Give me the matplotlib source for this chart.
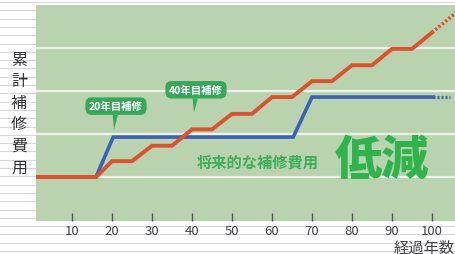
import matplotlib
matplotlib.use("Agg")
import matplotlib.pyplot as plt
import numpy as np

plt.rcParams['font.family'] = ['Noto Sans CJK JP', 'DejaVu Sans']

# ---- data ----
red_x = [0, 16, 20, 25, 30, 35, 40, 45, 50, 55, 60, 65, 70, 75, 80, 85, 90, 95, 100]
red_y = [0, 0, 3.7, 3.7, 7.3, 7.3, 11.1, 11.1, 14.7, 14.7, 18.6, 18.6, 22.3, 22.3, 26.0, 26.0, 29.8, 29.8, 33.6]
red_ext_x = [100, 106]
red_ext_y = [33.6, 38.2]

blue_x = [0, 16, 20.3, 65.3, 70, 100.3]
blue_y = [0, 0, 9.3, 9.3, 18.6, 18.6]
blue_ext_x = [100.3, 104.5]
blue_ext_y = [18.6, 18.6]

xticks = [10, 20, 30, 40, 50, 60, 70, 80, 90, 100]
grid_levels = [0, 10, 20, 30]
ylabel = "累計補修費用"
xlabel = "経過年数"
callouts = ["20年目補修", "40年目補修"]
callout_tip = [(20.5, 11.0), (40.5, 15.0)]
callout_box = [(21.0, 16.5), (41.0, 20.3)]
note_small = "将来的な補修費用"
note_big = "低減"

# ---- figure ----
W, H = 456, 255
fig = plt.figure(figsize=(W / 100, H / 100), dpi=100)
fig.patch.set_facecolor('white')

# lined paper background
for yp in np.arange(3, H, 8.3):
    fig.add_artist(plt.Line2D([0, 1], [1 - yp / H, 1 - yp / H], transform=fig.transFigure,
                              color='#d6d6e2', lw=0.8, zorder=0))

ax = fig.add_axes([36 / W, 1 - 222 / H, (W - 36) / W, (222 - 6) / H])
ax.set_facecolor('#b8d3ae')
for s in ax.spines.values():
    s.set_visible(False)
ax.set_xlim(1, 106)
ax.set_ylim(-10.2, 40)

for g in grid_levels:
    ax.axhline(g, color='#eef3ea', lw=1.6, zorder=1)

ax.plot(blue_x, blue_y, color='#3a62b8', lw=2.6, solid_joinstyle='miter', zorder=3)
ax.plot(blue_ext_x, blue_ext_y, color='#3a62b8', lw=2.4, ls=(0, (0.6, 0.6)), zorder=3)
ax.plot(red_x, red_y, color='#e0502c', lw=2.8, solid_joinstyle='miter', zorder=4)
ax.plot(red_ext_x, red_ext_y, color='#e0502c', lw=2.6, ls=(0, (0.6, 0.6)), zorder=4)

ax.set_xticks(xticks)
ax.set_xticklabels([str(t) for t in xticks])
ax.tick_params(axis='x', direction='in', length=6, width=1, color='#555555',
               labelsize=9.5, labelcolor='#444444', pad=2)
ax.set_yticks([])

green = '#35a85a'
for txt, tip, box in zip(callouts, callout_tip, callout_box):
    ax.annotate(txt, xy=tip, xytext=box, ha='center', va='center',
                fontsize=7.5, fontweight='bold', color='white', zorder=6,
                bbox=dict(boxstyle='round,pad=0.35,rounding_size=0.6', fc=green, ec='none'),
                arrowprops=dict(arrowstyle='wedge,tail_width=0.5,shrink_factor=0.5',
                                fc=green, ec='none', shrinkA=0, shrinkB=0))

ax.text(56.5, 3.5, note_small, ha='center', va='center', fontsize=11,
        fontweight='bold', color='#3fae5c', zorder=5)
ax.text(87.4, 4.0, note_big, ha='center', va='center', fontsize=34,
        fontweight='black', color='#2fb44c', zorder=5)

# vertical y label, one character per line
ys = np.linspace(60, 168, len(ylabel))
for ch, yp in zip(ylabel, ys):
    fig.text(19 / W, 1 - yp / H, ch, ha='center', va='center', fontsize=11.5, color='#333333')

fig.text(0.998, 1 - 248 / H, xlabel, ha='right', va='center', fontsize=11, color='#444444')

fig.savefig('out.png', dpi=100, facecolor='white')
